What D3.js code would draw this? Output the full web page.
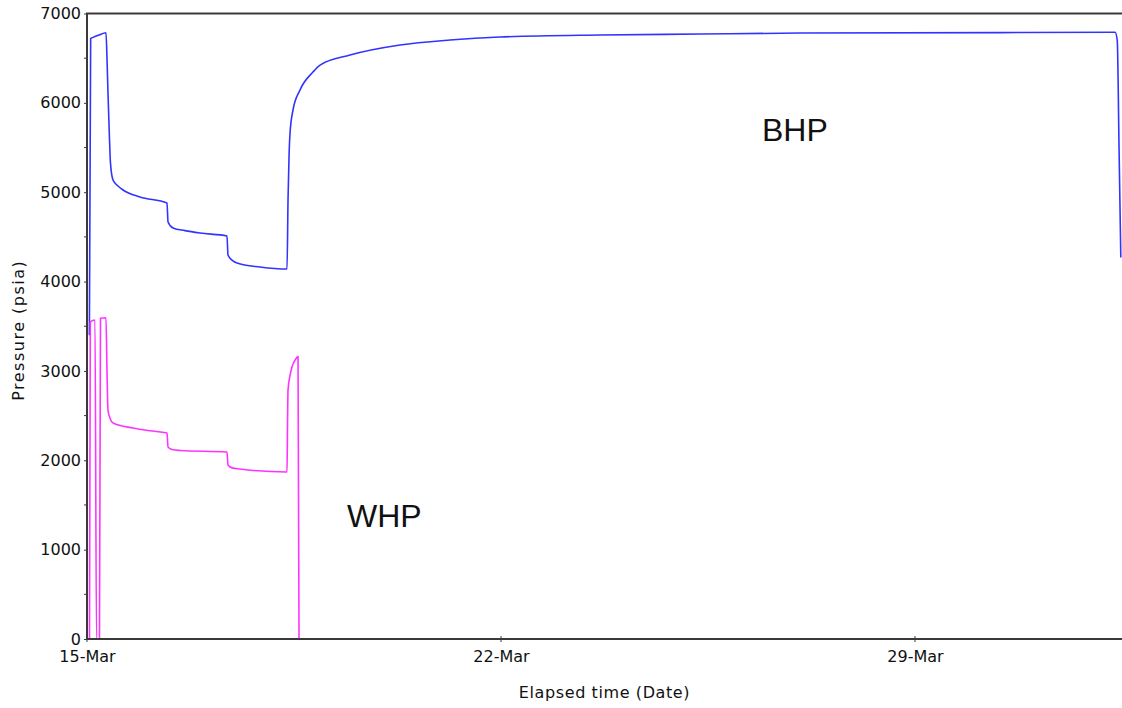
<!DOCTYPE html>
<html>
<head>
<meta charset="utf-8">
<script src="https://cdn.jsdelivr.net/npm/d3@7"></script>
<style>
  html, body { margin: 0; padding: 0; background: #fff; }
  svg { display: block; }
</style>
</head>
<body>
<svg id="chart" width="1122" height="708"></svg>
<script>
// ---- Data (elapsed days since 15-Mar 00:00, pressure in psia) ----
const bhpDays = [0.040, 0.062, 0.093, 0.203, 0.321, 0.338, 0.355, 0.380, 0.397, 0.440, 0.524, 0.609, 0.896, 1.353,
  1.370, 1.454, 1.657, 1.911, 2.367, 2.384, 2.452, 2.536, 2.925, 3.382,
  3.399, 3.416, 3.433, 3.483, 3.602, 3.821, 3.940, 4.447, 5.293, 6.138, 6.983, 8.674, 10.365, 12.056, 15.438, 17.383,
  17.420, 17.450, 17.480];
const bhpValues = [3400, 6720, 6730, 6760, 6785, 6500, 6110, 5600, 5325, 5136, 5070, 5025, 4946, 4879,
  4667, 4600, 4570, 4543, 4510, 4297, 4240, 4208, 4163, 4140,
  4913, 5400, 5662, 5920, 6144, 6345, 6423, 6535, 6647, 6703, 6737, 6760, 6770, 6781, 6786, 6790,
  6700, 5500, 4270];

const whpDays = [0.042, 0.056, 0.135, 0.161, 0.211, 0.228, 0.321, 0.338, 0.355, 0.389, 0.440, 0.778, 1.065, 1.353,
  1.370, 1.437, 1.573, 2.367, 2.384, 2.452, 2.587, 3.382,
  3.390, 3.399, 3.433, 3.466, 3.517, 3.568, 3.585];
const whpValues = [0, 3550, 3570, 0, 0, 3590, 3595, 3000, 2560, 2470, 2417, 2361, 2330, 2305,
  2149, 2120, 2110, 2093, 1947, 1915, 1902, 1869,
  2372, 2786, 2950, 3044, 3120, 3160, 0];

const yTicks = [0, 1000, 2000, 3000, 4000, 5000, 6000, 7000];
const yMinorTicks = [500, 1500, 2500, 3500, 4500, 5500, 6500];
const xTickDays = [0, 7, 14];
const seriesLabels = ["BHP", "WHP"];

(function () {
// ---- Setup ----
const base = new Date(2010, 2, 15);
const toDate = d => new Date(base.getTime() + d * 86400000);

const svg = d3.select("#chart");
const pLeft = 87, pRight = 1122, pTop = 13.5, pBottom = 639;

const x = d3.scaleTime().domain([toDate(0), toDate(17.5)]).range([pLeft, pRight]);
const y = d3.scaleLinear().domain([0, 7000]).range([pBottom, pTop]);

const font = "'DejaVu Sans', Verdana, sans-serif";
const axisColor = "#3a3a3a";

// ---- Lines ----
const line = d3.line().x(d => x(d.t)).y(d => y(d.v)).curve(d3.curveMonotoneX);
const bhp = bhpDays.map((d, i) => ({ t: toDate(d), v: bhpValues[i] }));
const whp = whpDays.map((d, i) => ({ t: toDate(d), v: whpValues[i] }));

svg.append("defs").append("clipPath").attr("id", "clip")
  .append("rect").attr("x", pLeft).attr("y", pTop - 2).attr("width", pRight - pLeft).attr("height", pBottom - pTop + 2);

const g = svg.append("g").attr("clip-path", "url(#clip)");
g.append("path").datum(bhp).attr("d", line)
  .attr("fill", "none").attr("stroke", "#3333ff").attr("stroke-width", 1.6).attr("stroke-linejoin", "round");
g.append("path").datum(whp).attr("d", line)
  .attr("fill", "none").attr("stroke", "#ff33ff").attr("stroke-width", 1.6).attr("stroke-linejoin", "round");

// ---- Axes ----
const yAxis = d3.axisLeft(y).tickValues(yTicks).tickSize(3).tickPadding(3).tickFormat(d3.format("d"));
const yg = svg.append("g").attr("transform", `translate(${pLeft},0)`).call(yAxis);
yg.select(".domain").remove();
yg.selectAll(".tick line").attr("stroke", axisColor);
yg.selectAll("text").attr("font-family", font).attr("font-size", 16).attr("fill", "#111");

svg.append("g").selectAll("line").data(yMinorTicks).join("line")
  .attr("x1", pLeft - 3).attr("x2", pLeft).attr("y1", d => y(d)).attr("y2", d => y(d))
  .attr("stroke", axisColor);

const xAxis = d3.axisBottom(x).tickValues(xTickDays.map(toDate)).tickSize(0).tickPadding(12)
  .tickFormat(d3.timeFormat("%d-%b"));
const xg = svg.append("g").attr("transform", `translate(0,${pBottom})`).call(xAxis);
xg.select(".domain").remove();
xg.selectAll("text").attr("font-family", font).attr("font-size", 16).attr("fill", "#111");
svg.append("g").selectAll("line").data(xTickDays).join("line")
  .attr("x1", d => x(toDate(d))).attr("x2", d => x(toDate(d)))
  .attr("y1", pBottom - 3).attr("y2", pBottom + 3).attr("stroke", axisColor);

// frame lines: left, bottom, top
svg.append("line").attr("x1", pLeft).attr("x2", pLeft).attr("y1", pTop).attr("y2", pBottom)
  .attr("stroke", axisColor).attr("stroke-width", 2);
svg.append("line").attr("x1", pLeft - 1).attr("x2", pRight).attr("y1", pBottom).attr("y2", pBottom)
  .attr("stroke", axisColor).attr("stroke-width", 2);
svg.append("line").attr("x1", pLeft - 1).attr("x2", pRight).attr("y1", pTop).attr("y2", pTop)
  .attr("stroke", axisColor).attr("stroke-width", 2);

// ---- Axis titles ----
svg.append("text").attr("x", (pLeft + pRight) / 2).attr("y", 698).attr("text-anchor", "middle")
  .attr("font-family", font).attr("font-size", 16).attr("letter-spacing", 0.6).attr("fill", "#111")
  .text("Elapsed time (Date)");
svg.append("text").attr("transform", `translate(24,${(pTop + pBottom) / 2 + 4}) rotate(-90)`)
  .attr("text-anchor", "middle")
  .attr("font-family", font).attr("font-size", 16).attr("letter-spacing", 1.5).attr("fill", "#111")
  .text("Pressure (psia)");

// ---- Series labels ----
const labelFont = "'Liberation Sans', Arial, sans-serif";
svg.append("text").attr("x", 762).attr("y", 141).attr("font-family", labelFont).attr("font-size", 32)
  .attr("fill", "#111").text(seriesLabels[0]);
svg.append("text").attr("x", 347).attr("y", 527).attr("font-family", labelFont).attr("font-size", 32)
  .attr("fill", "#111").text(seriesLabels[1]);
})();
</script>
</body>
</html>
